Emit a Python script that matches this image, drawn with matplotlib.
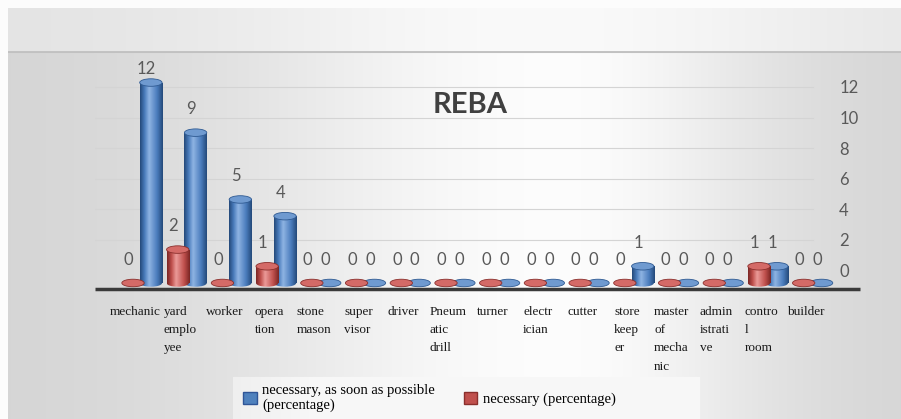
import numpy as np
import matplotlib
matplotlib.use('Agg')
import matplotlib.pyplot as plt
from matplotlib.patches import Rectangle, Ellipse, Patch
from matplotlib.colors import LinearSegmentedColormap
import matplotlib.transforms as mtransforms

plt.rcParams['font.family'] = ['Lato', 'DejaVu Sans']

# data
categories = ['mechanic', 'yard\nemplo\nyee', 'worker', 'opera\ntion', 'stone\nmason',
              'super\nvisor', 'driver', 'Pneum\natic\ndrill', 'turner', 'electr\nician',
              'cutter', 'store\nkeep\ner', 'master\nof\nmecha\nnic', 'admin\nistrati\nve',
              'contro\nl\nroom', 'builder']
asap_vals = [12, 9, 5, 4, 0, 0, 0, 0, 0, 0, 0, 1, 0, 0, 1, 0]   # blue
nec_vals = [0, 2, 0, 1, 0, 0, 0, 0, 0, 0, 0, 0, 0, 0, 1, 0]     # red
axis_ticks = [0, 2, 4, 6, 8, 10, 12]
asap_label = 'necessary, as soon as possible\n(percentage)'
nec_label = 'necessary (percentage)'

W, H = 901, 419
fig = plt.figure(figsize=(W / 100, H / 100), dpi=100)

# background gradient
xs = np.linspace(0, 1, W)
sig = np.where(xs < 0.62, 0.36, 0.24)
prof = 0.83 + 0.16 * np.exp(-((xs - 0.62) / sig) ** 2)
img = np.tile(prof, (H, 1))
band = 0.89 + 0.09 * np.exp(-((xs - 0.6) / 0.35) ** 2)
img[9:52] = band
img[52:54] = 0.76
img[:9] = 0.99
img[:, :8] = 0.99
# light box behind legend
img[377:, 233:700] = np.clip(img[377:, 233:700] + 0.05, 0, 0.97)
bg = fig.add_axes([0, 0, 1, 1], zorder=-10)
bg.imshow(np.dstack([img, img, img]), aspect='auto', extent=[0, 1, 0, 1])
bg.axis('off')

ax = fig.add_axes([95 / W, 1 - 292 / H, 740 / W, 232 / H])
ax2 = ax.twinx()
ax.set_zorder(ax2.get_zorder() + 1)
ax.patch.set_visible(False)
ax2.patch.set_visible(False)

grad = np.linspace(0, 1, 100).reshape(1, -1)
blue_cm = LinearSegmentedColormap.from_list(
    'b', [(0, '#24497a'), (0.2, '#4a7cbc'), (0.4, '#8fb4e3'), (0.75, '#4a7cbc'), (1, '#24497a')])
red_cm = LinearSegmentedColormap.from_list(
    'r', [(0, '#7a2624'), (0.2, '#c0504d'), (0.4, '#eb9a98'), (0.75, '#c0504d'), (1, '#7a2624')])


def cylinder(xc, v, w, cmap, topc, edgec, z):
    eh = 0.45
    x0 = xc - w / 2
    if v > 0:
        im = ax.imshow(grad, extent=[x0, x0 + w, -eh / 2, v], aspect='auto', cmap=cmap,
                       zorder=z, interpolation='bilinear')
        im.set_clip_path(Rectangle((x0, 0), w, v, transform=ax.transData))
        im2 = ax.imshow(grad, extent=[x0, x0 + w, -eh / 2, v], aspect='auto', cmap=cmap,
                        zorder=z, interpolation='bilinear')
        im2.set_clip_path(Ellipse((xc, 0), w, eh, transform=ax.transData))
    ax.add_patch(Ellipse((xc, v), w, eh, facecolor=topc, edgecolor=edgec, lw=0.6,
                         zorder=z + 0.1))


idx = np.arange(len(categories))
bw = 0.5
for i in idx:
    cylinder(idx[i] + 0.2, asap_vals[i], bw, blue_cm, '#6f9ad0', '#2f5a92', 3)
    cylinder(idx[i] - 0.2, nec_vals[i], bw, red_cm, '#d46a67', '#8a2f2c', 4)

ax.set_xlim(-1.05, 15.5)
ax.set_ylim(-0.54, 13.35)
ax.set_yticks([])
for s in ax.spines.values():
    s.set_visible(False)
for s in ax2.spines.values():
    s.set_visible(False)

# floor line
tr = mtransforms.blended_transform_factory(ax.transAxes, ax.transData)
ax.plot([0, 1.034], [-0.36, -0.36], transform=tr, color='#3a3a3a', lw=2.5, clip_on=False,
        solid_capstyle='butt')

ax.set_xticks(idx - 0.15, categories)
ax.tick_params(axis='x', length=0, pad=10)
for lab in ax.get_xticklabels():
    lab.set_fontfamily('Liberation Serif')
    lab.set_fontsize(9.5)
    lab.set_multialignment('left')
    lab.set_linespacing(1.7)
    lab.set_color('#1a1a1a')
    lab.set_verticalalignment('top')

# right axis (back wall scale)
ax2.set_ylim(-1.44, 13.77)
ax2.set_yticks(axis_ticks)
ax2.tick_params(axis='y', length=0, pad=3, labelsize=12, labelcolor='#595959')
for g in axis_ticks[1:]:
    ax2.axhline(g, xmin=0, xmax=0.97, color='#d4d4d4', lw=0.8, zorder=0)

# data labels, ~25 px above each bar top, kept inside the plot area
top_lim = 12.8
for i in idx:
    for xv, v in ((idx[i] - 0.2, nec_vals[i]), (idx[i] + 0.2, asap_vals[i])):
        ax.text(xv - 0.1, min(v + 1.4, top_lim), str(v), ha='center', va='center',
                fontsize=12, color='#595959', zorder=6)

fig.text(470 / W, 1 - 105 / H, 'REBA', ha='center', va='center', fontsize=21,
         fontweight='bold', color='#404040')

handles = [Patch(facecolor='#4f81bd', edgecolor='#2f5597'),
           Patch(facecolor='#c0504d', edgecolor='#8a2f2c')]
leg = fig.legend(handles, [asap_label, nec_label], loc='center', ncol=2,
                 bbox_to_anchor=(0.477, 0.05), frameon=False, handlelength=0.9,
                 handleheight=0.9, handletextpad=0.4, columnspacing=2,
                 prop={'family': 'Liberation Serif', 'size': 10.5})

fig.savefig('out.png', dpi=100)
